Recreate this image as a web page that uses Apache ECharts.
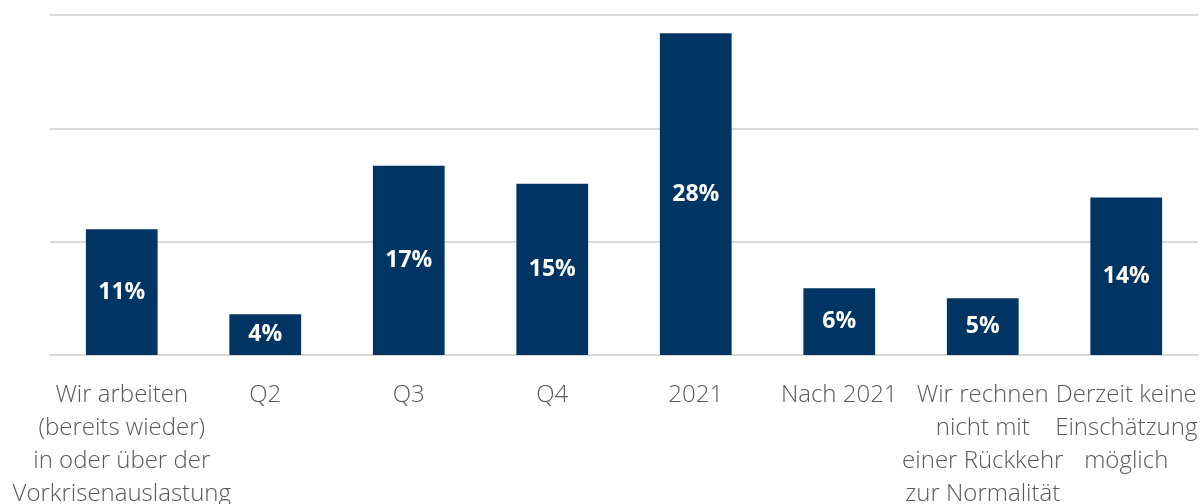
<!DOCTYPE html>
<html>
<head>
<meta charset="utf-8">
<script src="https://cdn.jsdelivr.net/npm/echarts@6/dist/echarts.min.js"></script>
<style>
    html, body { margin: 0; padding: 0; background: #fff; }
    #main { width: 1202px; height: 504px; }
</style>
</head>
<body>
<div id="main"></div>
<script>
// Kategorien
var categories = [
    'Wir arbeiten\n(bereits wieder)\nin oder über der\nVorkrisenauslastung',
    'Q2',
    'Q3',
    'Q4',
    '2021',
    'Nach 2021',
    'Wir rechnen\nnicht mit\neiner Rückkehr\nzur Normalität',
    'Derzeit keine\nEinschätzung\nmöglich'
];
// Anteile in %
var values = [11.1, 3.6, 16.7, 15.1, 28.4, 5.9, 5.0, 13.9];
// Achsenraster
var yMin = 0, yMax = 30, yStep = 10;

var chart = echarts.init(document.getElementById('main'));
var option = {
    animation: false,
    textStyle: {
        fontFamily: "'Source Sans Pro', 'Open Sans', sans-serif"
    },
    grid: {
        left: 50,
        right: 4,
        top: 15,
        bottom: 149,
        outerBoundsMode: 'none'
    },
    xAxis: {
        type: 'category',
        data: categories,
        axisLine: {
            lineStyle: { color: '#d9d9d9', width: 2 }
        },
        axisTick: { show: false },
        axisLabel: {
            interval: 0,
            color: '#595959',
            fontSize: 24,
            fontWeight: 300,
            lineHeight: 33,
            margin: 24,
            align: 'center',
            overflow: 'none'
        }
    },
    yAxis: {
        type: 'value',
        min: yMin,
        max: yMax,
        interval: yStep,
        axisLabel: { show: false },
        axisLine: { show: false },
        axisTick: { show: false },
        splitLine: {
            lineStyle: { color: '#d9d9d9', width: 2 }
        }
    },
    series: [{
        type: 'bar',
        data: values,
        barWidth: '50%',
        itemStyle: { color: '#003462' },
        label: {
            show: true,
            position: 'inside',
            color: '#fff',
            fontSize: 23,
            fontWeight: 'bold',
            formatter: function (p) { return Math.round(p.value) + '%'; }
        }
    }]
};
chart.setOption(option);
</script>
</body>
</html>
